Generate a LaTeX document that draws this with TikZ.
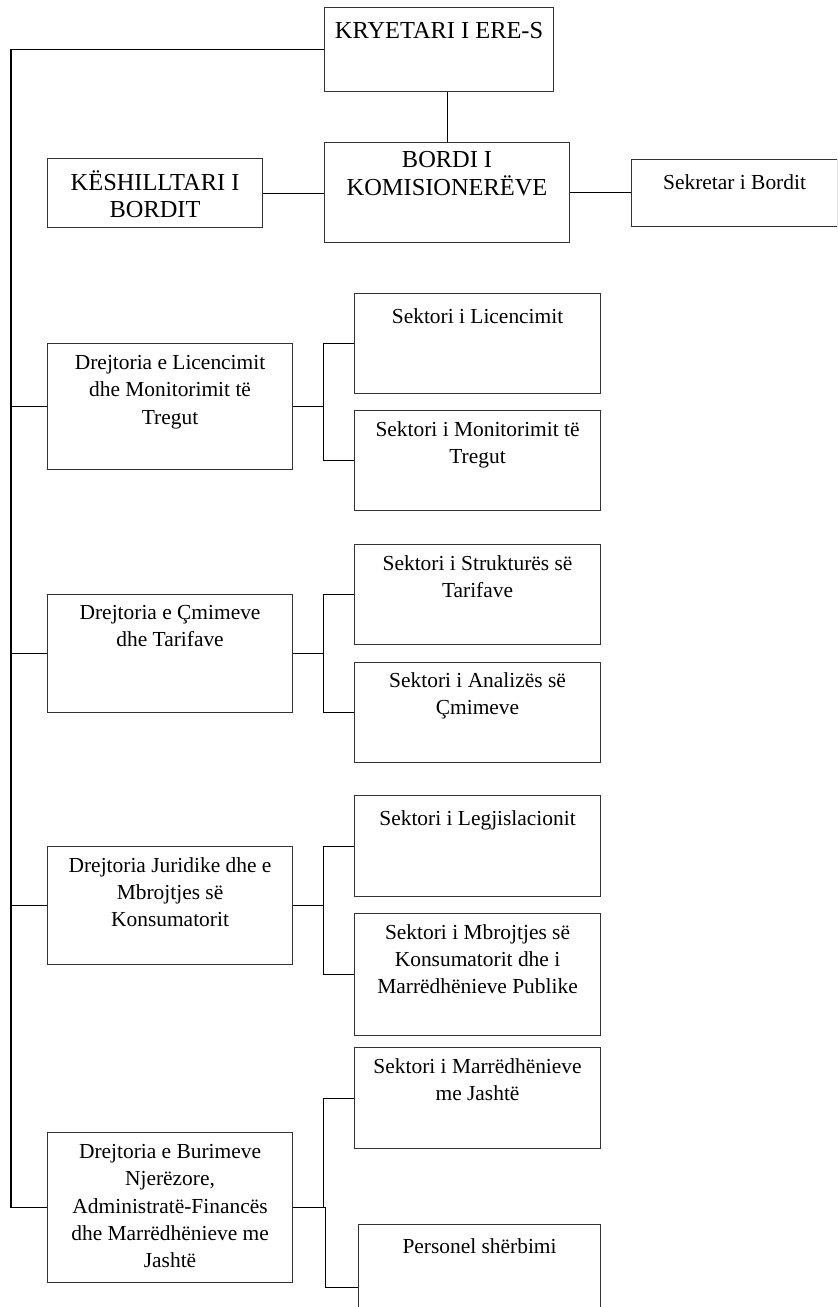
\documentclass[tikz,border=0pt]{standalone}
\usepackage{fontspec}
\setmainfont{Liberation Serif}
\begin{document}
\begin{tikzpicture}[x=1bp,y=-1bp,
  box/.style={draw=black!80, line width=1.1bp, anchor=north west, inner sep=0pt},
  txt/.style={font=\fontsize{21.5}{27.5}\selectfont, align=center, inner sep=0pt, anchor=north, execute at begin node=\strut},
  capstxt/.style={font=\fontsize{24.5}{27.5}\selectfont, align=center, inner sep=0pt, anchor=north, execute at begin node=\strut},
  conn/.style={draw=black, line width=0.9bp},
  spine/.style={draw=black, line width=1.5bp}]
\useasboundingbox (0,0) rectangle (837,1307);
\clip (0,0) rectangle (837,1307);

% top boxes
\node[box, minimum width=229bp, minimum height=84bp] (kry) at (324,7) {};
\node[capstxt] (krytx) at ([yshift=-12.5bp]kry.north) {KRYETARI I ERE-S};
\node[box, minimum width=245bp, minimum height=100bp] (bord) at (324,142) {};
\node[capstxt] (bordtx) at ([yshift=-9.5bp]bord.north) {BORDI I\\KOMISIONERËVE};
\node[box, minimum width=215bp, minimum height=69bp] (kesh) at (47,158) {};
\node[capstxt] (keshtx) at ([yshift=-12.5bp]kesh.north) {KËSHILLTARI I\\BORDIT};
\node[box, minimum width=206bp, minimum height=67bp] (sekr) at (631,159) {};
\node[txt] (sekrtx) at ([yshift=-11bp]sekr.north) {Sekretar i Bordit};

% directorates
\node[box, minimum width=245bp, minimum height=126bp] (d1) at (47,343) {};
\node[txt] (d1tx) at ([yshift=-12bp]d1.north) {Drejtoria e Licencimit\\dhe Monitorimit të\\Tregut};
\node[box, minimum width=245bp, minimum height=118bp] (d2) at (47,594) {};
\node[txt] (d2tx) at ([yshift=-11bp]d2.north) {Drejtoria e Çmimeve\\dhe Tarifave};
\node[box, minimum width=245bp, minimum height=118bp] (d3) at (47,846) {};
\node[txt] (d3tx) at ([yshift=-11bp]d3.north) {Drejtoria Juridike dhe e\\Mbrojtjes së\\Konsumatorit};
\node[box, minimum width=245bp, minimum height=150bp] (d4) at (47,1132) {};
\node[txt] (d4tx) at ([yshift=-12bp]d4.north) {Drejtoria e Burimeve\\Njerëzore,\\Administratë-Financës\\dhe Marrëdhënieve me\\Jashtë};

% sectors
\node[box, minimum width=246bp, minimum height=100bp] (lic) at (354,293) {};
\node[txt] (lictx) at ([yshift=-11bp]lic.north) {Sektori i Licencimit};
\node[box, minimum width=246bp, minimum height=100bp] (mon) at (354,410) {};
\node[txt] (montx) at ([yshift=-11.5bp]mon.north) {Sektori i Monitorimit të\\Tregut};
\node[box, minimum width=246bp, minimum height=100bp] (str) at (354,544) {};
\node[txt] (strtx) at ([yshift=-11.5bp]str.north) {Sektori i Strukturës së\\Tarifave};
\node[box, minimum width=246bp, minimum height=100bp] (ana) at (354,662) {};
\node[txt] (anatx) at ([yshift=-10bp]ana.north) {Sektori i Analizës së\\Çmimeve};
\node[box, minimum width=246bp, minimum height=101bp] (leg) at (354,795) {};
\node[txt] (legtx) at ([yshift=-11bp]leg.north) {Sektori i Legjislacionit};
\node[box, minimum width=246bp, minimum height=122bp] (mbr) at (354,913) {};
\node[txt] (mbrtx) at ([yshift=-11bp]mbr.north) {Sektori i Mbrojtjes së\\Konsumatorit dhe i\\Marrëdhënieve Publike};
\node[box, minimum width=246bp, minimum height=101bp] (mar) at (354,1047) {};
\node[txt] (martx) at ([yshift=-11.5bp]mar.north) {Sektori i Marrëdhënieve\\me Jashtë};
\node[box, minimum width=242bp, minimum height=126bp] (per) at (358,1224) {};
\node[txt] (pertx) at ([yshift=-10bp]per.north) {Personel shërbimi};

% helper coordinates
\coordinate (sp) at (11,0);
\coordinate (bx) at (323,0);
\coordinate (bxb) at (325,0);

% top connectors
\draw[conn] (bord.north) -- (bord.north |- kry.south);
\draw[conn] (kesh.east) -- (kesh.east -| bord.west);
\draw[conn] (bord.east) -- (bord.east -| sekr.west);

% spine
\draw[spine] (kry.west) -- (kry.west -| sp) -- (d4.west -| sp) -- (d4.west);
\draw[conn] (d1.west -| sp) -- (d1.west);
\draw[conn] (d2.west -| sp) -- (d2.west);
\draw[conn] (d3.west -| sp) -- (d3.west);

% brackets
\draw[conn] (d1.east) -- (d1.east -| bx);
\draw[conn] (lic.west) -- (lic.west -| bx) -- (mon.west -| bx) -- (mon.west);
\draw[conn] (d2.east) -- (d2.east -| bx);
\draw[conn] (str.west) -- (str.west -| bx) -- (ana.west -| bx) -- (ana.west);
\draw[conn] (d3.east) -- (d3.east -| bx);
\draw[conn] (leg.west) -- (leg.west -| bx) -- (mbr.west -| bx) -- (mbr.west);
\draw[conn] (d4.east) -- (d4.east -| bx);
\draw[conn] (mar.west) -- (mar.west -| bx) -- (d4.east -| bx);
\draw[conn] (d4.east -| bx) -- (d4.east -| bxb) -- (per.west -| bxb) -- (per.west);
\end{tikzpicture}
\end{document}
